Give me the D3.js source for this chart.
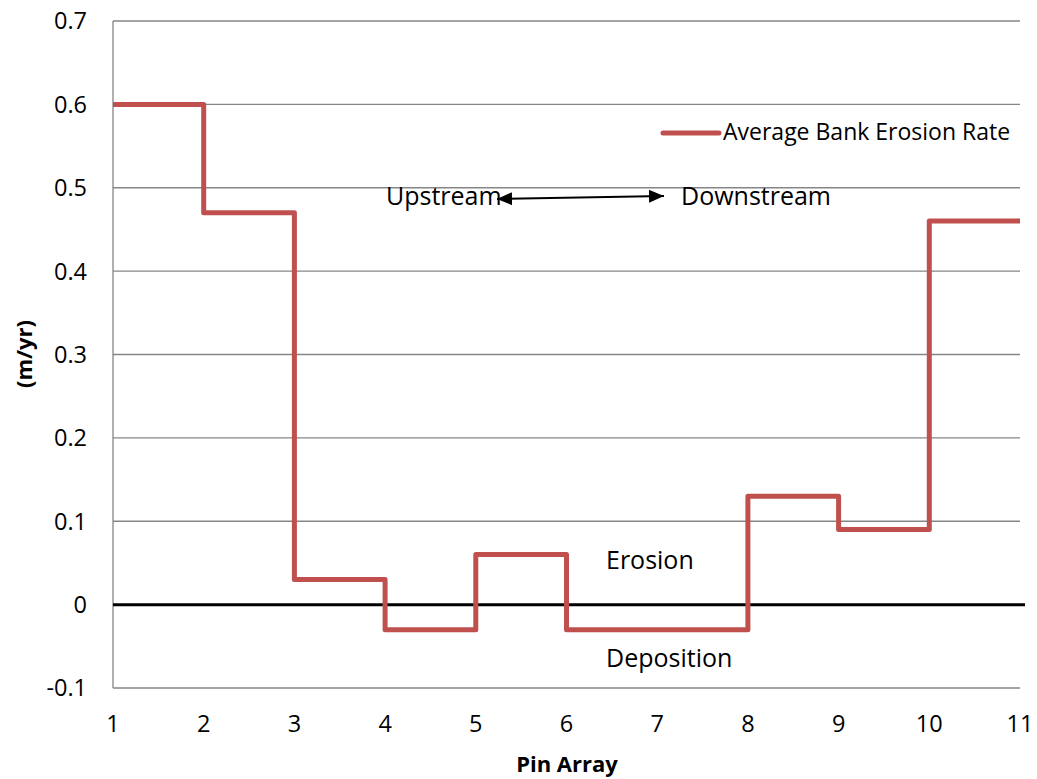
<!DOCTYPE html>
<html><head><meta charset="utf-8">
<script src="https://cdn.jsdelivr.net/npm/d3@7"></script>
<style>body{margin:0;background:#fff}svg{display:block}text{font-family:"Open Sans",sans-serif;fill:#000}</style>
</head><body>
<svg id="c" width="1037" height="779"></svg>
<script>
const pins = [1,2,3,4,5,6,7,8,9,10,11];
const rates = [0.6,0.47,0.03,-0.03,0.06,-0.03,-0.03,0.13,0.09,0.46,0.46];
const yTicks = [-0.1,0,0.1,0.2,0.3,0.4,0.5,0.6,0.7];
const xTicks = [1,2,3,4,5,6,7,8,9,10,11];
const seriesName = "Average Bank Erosion Rate";
const yTitle = "(m/yr)";
const xTitle = "Pin Array";

const svg = d3.select("#c");
const L=113, R=1020, T=21, B=688;
const x = d3.scaleLinear().domain([1,11]).range([L,R]);
const y = d3.scaleLinear().domain([-0.1,0.7]).range([B,T]);
const grid="#868686";

// gridlines
svg.append("g").selectAll("line").data(yTicks.filter(v=>v>-0.1 && v!==0)).join("line")
  .attr("x1",L).attr("x2",R).attr("y1",d=>y(d)).attr("y2",d=>y(d))
  .attr("stroke",grid).attr("stroke-width",1.3);
// axes lines
svg.append("line").attr("x1",L).attr("x2",L).attr("y1",T).attr("y2",B).attr("stroke",grid).attr("stroke-width",1.3);
svg.append("line").attr("x1",L).attr("x2",R).attr("y1",B).attr("y2",B).attr("stroke",grid).attr("stroke-width",1.3);

// y tick labels
svg.append("g").selectAll("text").data(yTicks).join("text")
  .attr("x",87).attr("y",d=>y(d)).attr("dy","0.36em").attr("text-anchor","end")
  .attr("font-size",23.5).text(d=>d===0?"0":d3.format(".1f")(d).replace("\u2212","-"));
// x tick labels
svg.append("g").selectAll("text").data(xTicks).join("text")
  .attr("x",d=>x(d)).attr("y",732).attr("text-anchor","middle")
  .attr("font-size",23.5).text(d=>d);

// zero line
svg.append("line").attr("x1",L).attr("x2",1025).attr("y1",y(0)).attr("y2",y(0))
  .attr("stroke","#000").attr("stroke-width",3);

// series
const line = d3.line().x((d,i)=>x(pins[i])).y(d=>y(d)).curve(d3.curveStepAfter);
svg.append("path").attr("d",line(rates)).attr("fill","none")
  .attr("stroke","#C0504D").attr("stroke-width",5).attr("stroke-linejoin","round");

// legend
svg.append("line").attr("x1",663).attr("x2",719).attr("y1",133).attr("y2",133)
  .attr("stroke","#C0504D").attr("stroke-width",5).attr("stroke-linecap","round");
svg.append("text").attr("x",723).attr("y",140).attr("font-size",23).text(seriesName);

// annotations
const defs = svg.append("defs");
defs.append("marker").attr("id","ah").attr("viewBox","0 0 10 10").attr("refX",10).attr("refY",5)
  .attr("markerWidth",7.5).attr("markerHeight",6.5).attr("orient","auto-start-reverse").attr("markerUnits","strokeWidth")
  .attr("preserveAspectRatio","none")
  .append("path").attr("d","M0,0L10,5L0,10z").attr("fill","#000");
svg.append("line").attr("x1",497).attr("y1",199).attr("x2",664).attr("y2",196)
  .attr("stroke","#000").attr("stroke-width",2).attr("marker-start","url(#ah)").attr("marker-end","url(#ah)");
svg.append("text").attr("x",386).attr("y",205).attr("font-size",25).text("Upstream");
svg.append("text").attr("x",681).attr("y",205).attr("font-size",25).text("Downstream");
svg.append("text").attr("x",606).attr("y",569).attr("font-size",25).text("Erosion");
svg.append("text").attr("x",606).attr("y",667).attr("font-size",25).text("Deposition");

// titles
svg.append("text").attr("transform","translate(32,354) rotate(-90)").attr("text-anchor","middle")
  .attr("font-size",22).attr("font-weight","bold").text(yTitle);
svg.append("text").attr("x",567).attr("y",772).attr("text-anchor","middle")
  .attr("font-size",22).attr("font-weight","bold").text(xTitle);
</script>
</body></html>
